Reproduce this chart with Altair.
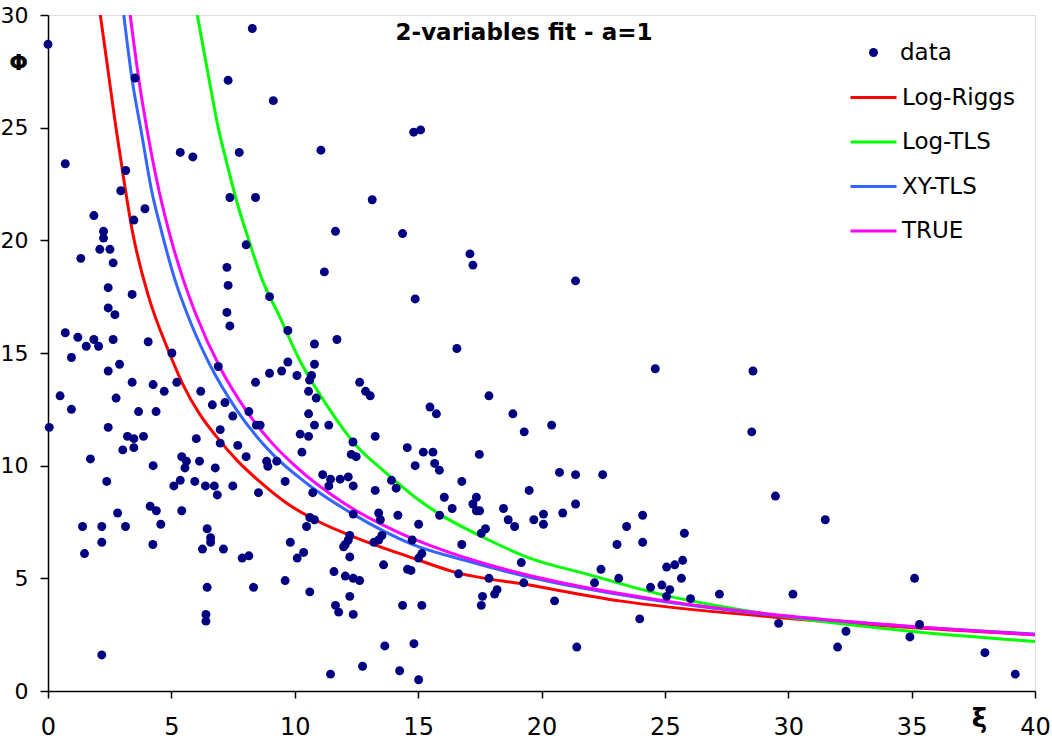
import altair as alt
import pandas as pd

# ---------------- data ----------------
data_x = [0.0, 8.28, 3.53, 7.30, 9.13, 0.70, 5.36, 5.87, 7.75, 3.15, 2.95, 7.37, 8.41, 1.86, 3.93, 3.48, 2.25, 2.25,
          11.06, 14.82, 15.10, 13.14, 11.65, 14.37,
          8.03, 1.33, 2.10, 2.51, 2.64, 7.25, 7.30, 2.44, 3.41, 8.98, 2.44, 2.71, 7.25, 7.37, 9.72, 0.70, 1.21, 1.86,
          1.55, 2.05, 2.64, 4.06, 0.95, 5.02, 2.90, 2.44, 6.90, 9.72, 9.47, 8.98, 8.41, 3.41, 4.26, 5.22, 4.71, 6.19,
          0.49, 2.76, 6.66, 7.17, 0.95, 3.67, 4.38, 8.14, 7.49, 8.44, 8.60, 0.05, 2.44, 6.98, 3.22, 3.48, 3.87, 6.01,
          6.98, 7.69, 3.03, 3.48, 1.72, 5.42, 5.61, 6.14, 8.03, 8.86, 9.27, 4.26, 5.55, 6.78,
          8.91, 2.38, 5.10, 5.36, 5.95, 6.38, 6.74, 6.86, 7.49, 8.53, 9.61, 4.14, 4.39, 2.82, 5.42, 4.57, 1.40, 2.18,
          3.14, 6.45, 6.59, 6.59, 2.18, 4.25, 1.48, 6.26, 7.11, 7.87, 8.14, 9.82, 9.61, 6.45, 8.33, 6.40, 6.40, 2.18,
          17.10, 17.22, 11.20, 14.88, 11.71, 16.57, 10.80, 10.80, 10.09, 10.68, 10.60, 10.56, 10.87, 12.63, 12.87,
          13.06, 15.48, 15.74, 17.87, 18.84, 19.30, 10.56, 10.80, 11.38, 10.22, 10.56, 12.36, 13.26, 10.29, 12.29,
          12.49, 14.56, 15.21, 15.60, 14.88, 15.67, 15.86, 17.48,
          10.73, 11.13, 11.45, 11.38, 11.84, 12.17, 12.37, 13.26, 13.92, 14.11, 16.77, 16.06, 16.38, 15.87, 17.36,
          17.22, 17.36, 17.49, 18.46, 18.65, 18.91, 19.50, 17.73, 17.56, 19.18, 16.77, 10.61, 10.80, 10.48, 12.37,
          13.40, 13.47, 14.18, 15.02, 12.23, 12.17, 12.05, 11.98, 13.53, 13.40, 13.21, 14.76, 10.36, 10.10, 12.23,
          15.15, 15.02, 13.60, 14.57, 14.71, 16.64, 17.87, 19.28, 11.59, 12.05, 12.37, 12.63, 10.61, 12.23, 11.65,
          11.78, 12.37, 14.37, 15.15, 17.61, 17.56, 18.10, 18.20, 13.65, 14.83, 12.75, 11.45, 14.25, 15.02,
          20.73, 21.38, 22.48, 21.38, 20.08, 20.08, 19.69, 20.86, 24.10, 23.45, 25.79, 23.06, 24.10, 22.41, 25.07,
          25.40, 25.72, 25.67, 23.13, 22.15, 24.42, 24.88, 25.20, 25.07, 26.04, 20.53, 27.21, 23.98, 21.43,
          21.38, 24.61, 28.57, 20.41, 28.52,
          29.48, 31.50, 35.12, 30.19, 29.61, 32.34, 32.00, 35.32, 34.93, 37.97, 39.20]
data_y = [28.7, 29.4, 27.2, 27.1, 26.2, 23.4, 23.9, 23.7, 23.9, 23.1, 22.2, 21.9, 21.9, 21.1, 21.4, 20.9, 20.4, 20.1,
          24.0, 24.8, 24.9, 21.8, 20.4, 20.3,
          19.8, 19.2, 19.6, 19.6, 19.0, 18.8, 18.0, 17.9, 17.6, 17.5, 17.0, 16.7, 16.8, 16.2, 16.0, 15.9, 15.7, 15.6,
          15.3, 15.3, 15.6, 15.5, 14.8, 15.0, 14.5, 14.2, 14.4, 14.6, 14.2, 14.1, 13.7, 13.7, 13.6, 13.7, 13.3, 13.3,
          13.1, 13.0, 12.7, 12.8, 12.5, 12.4, 12.4, 12.4, 12.2, 11.8, 11.8, 11.7, 11.7, 11.6, 11.3, 11.2, 11.3, 11.2,
          11.0, 10.9, 10.7, 10.8, 10.3, 10.4, 10.2, 10.2, 10.4, 10.2, 10.2, 10.0, 9.9, 9.9,
          9.97, 9.3, 9.1, 9.35, 9.3, 9.1, 9.1, 8.7, 9.1, 8.8, 9.3, 8.2, 8.0, 7.9, 8.0, 7.4, 7.3, 7.3,
          7.3, 7.2, 6.8, 6.6, 6.6, 6.5, 6.1, 6.3, 6.3, 5.9, 6.0, 6.6, 4.9, 4.6, 4.6, 3.4, 3.1, 1.6,
          19.4, 18.9, 18.6, 17.4, 15.6, 15.2, 15.4, 14.5, 14.0, 14.0, 13.8, 13.3, 13.0, 13.7, 13.3,
          13.1, 12.6, 12.3, 13.1, 12.3, 11.5, 12.3, 11.8, 11.8, 11.4, 11.3, 11.05, 11.3, 10.6, 10.5,
          10.4, 10.8, 10.6, 10.6, 10.0, 10.1, 9.8, 10.5,
          8.8, 9.6, 9.4, 9.1, 9.4, 9.5, 9.1, 8.9, 9.35, 9.0, 9.3, 8.6, 8.1, 7.8, 8.6,
          8.3, 8.0, 8.0, 8.1, 7.6, 7.3, 8.9, 7.2, 7.0, 5.7, 6.5, 7.7, 7.6, 7.3, 7.85,
          7.9, 7.6, 7.8, 7.4, 6.9, 6.7, 6.5, 6.4, 6.9, 6.7, 6.6, 6.7, 6.15, 5.9, 5.95,
          6.1, 5.9, 5.6, 5.4, 5.35, 5.2, 5.0, 4.8, 5.3, 5.1, 5.0, 4.9, 4.4, 4.2, 3.8,
          3.5, 3.4, 3.8, 3.8, 4.2, 3.8, 4.3, 4.5, 2.0, 2.1, 1.1, 0.75, 0.9, 0.5,
          9.7, 9.6, 9.6, 8.3, 7.85, 7.4, 7.6, 7.9, 7.8, 7.3, 7.0, 6.5, 6.6, 5.4, 5.5,
          5.6, 5.8, 5.0, 5.0, 4.8, 4.6, 4.7, 4.5, 4.2, 4.1, 4.0, 4.3, 3.2, 1.95,
          18.2, 14.3, 14.2, 11.8, 11.5,
          8.65, 7.6, 5.0, 4.3, 3.0, 2.65, 1.95, 2.95, 2.4, 1.7, 0.75]

riggs_x = [2.12, 2.4, 2.74, 3.1, 3.42, 4.05, 4.92, 5.47, 6.14, 6.82, 7.69, 8.57, 9.72, 11.0, 12.49, 14.79, 16.41,
           19.52, 23.17, 29.25, 34.5, 40.0]
riggs_y = [30.0, 27.8, 25.1, 22.5, 20.4, 17.6, 15.0, 13.6, 12.3, 11.3, 10.2, 9.3, 8.3, 7.5, 6.8, 5.9, 5.3,
           4.7, 4.0, 3.3, 2.85, 2.5]

tls_x = [6.05, 6.5, 6.88, 7.3, 7.63, 8.14, 8.7, 9.35, 10.19, 11.41, 12.49, 13.57, 15.0, 15.87, 17.49, 19.52, 21.8,
         24.79, 29.25, 35.05, 40.0]
tls_y = [30.0, 27.3, 25.1, 23.2, 21.8, 20.0, 18.2, 16.7, 14.7, 12.5, 10.9, 9.8, 8.5, 7.85, 6.9, 5.9, 5.2,
         4.3, 3.4, 2.64, 2.2]

xy_x = [3.07, 3.4, 3.8, 4.2, 4.6, 5.13, 5.8, 6.55, 7.63, 9.11, 10.5, 12.36, 14.79, 17.0, 19.52, 23.17, 29.25,
        34.5, 40.0]
xy_y = [30.0, 27.2, 24.7, 22.2, 20.4, 18.3, 16.3, 14.5, 12.5, 10.5, 9.2, 7.85, 6.5, 5.77, 5.05, 4.28, 3.38,
        2.9, 2.53]

true_x = [3.33, 3.7, 4.0, 4.5, 5.0, 5.5, 6.0, 7.0, 8.0, 9.0, 10.0, 12.0, 14.0, 16.0, 18.0, 20.0, 25.0, 30.0,
          35.0, 40.0]
true_y = [30.0, 27.0, 25.0, 22.2, 20.0, 18.2, 16.7, 14.3, 12.5, 11.1, 10.0, 8.33, 7.14, 6.25, 5.56, 5.0, 4.0,
          3.33, 2.86, 2.5]

series_names = ["Log-Riggs", "Log-TLS", "XY-TLS", "TRUE"]
series_colors = ["#FF0000", "#00FF00", "#3366FF", "#FF00FF"]
title_text = "2-variables fit - a=1"

# ---------------- tables ----------------
pts = pd.DataFrame({"xi": data_x, "phi": data_y, "label": "data"})
curve_parts = []
for name, xs, ys in zip(series_names, [riggs_x, tls_x, xy_x, true_x], [riggs_y, tls_y, xy_y, true_y]):
    curve_parts.append(pd.DataFrame({"xi": xs, "phi": ys, "series": name}))
curves = pd.concat(curve_parts, ignore_index=True)

W, H = 987, 676
FONT = "DejaVu Sans"

xscale = alt.Scale(domain=[0, 40], nice=False, zero=False)
yscale = alt.Scale(domain=[0, 30], nice=False, zero=False)

xaxis = alt.Axis(values=list(range(0, 41, 5)), grid=False, domainColor="black", tickColor="black",
                 domainWidth=1.5, tickWidth=1.5, tickSize=7, labelFontSize=24, labelFont=FONT,
                 labelColor="black", labelPadding=17, labelFlush=False, labelOverlap=False,
                 title="ξ", titleFont=FONT, titleFontSize=26, titleFontWeight="bold", titleColor="black",
                 titleX=931, titleY=14, titleAngle=0, titleAlign="center", titleBaseline="top")
yaxis = alt.Axis(values=list(range(0, 31, 5)), grid=False, domainColor="black", tickColor="black",
                 domainWidth=1.5, tickWidth=1.5, tickSize=8, labelFontSize=22, labelFont=FONT,
                 labelColor="black", labelPadding=12, labelFlush=False, labelOverlap=False,
                 title="Φ", titleFont=FONT, titleFontSize=22, titleFontWeight="bold", titleColor="black",
                 titleX=-30, titleY=47, titleAngle=0, titleAlign="center", titleBaseline="middle")

lines = alt.Chart(curves).mark_line(strokeWidth=3, interpolate="monotone", clip=True).encode(
    x=alt.X("xi:Q", scale=xscale, axis=xaxis),
    y=alt.Y("phi:Q", scale=yscale, axis=yaxis),
    color=alt.Color("series:N", sort=series_names,
                    scale=alt.Scale(domain=series_names, range=series_colors),
                    legend=alt.Legend(orient="none", legendX=801, legendY=58, title=None,
                                      symbolType="stroke", symbolSize=2116, symbolStrokeWidth=3,
                                      labelFont=FONT, labelFontSize=23, labelColor="black",
                                      labelOffset=4, rowPadding=7.5, padding=0)),
    order=alt.Order("xi:Q"),
)

points = alt.Chart(pts).mark_circle(size=80, opacity=1).encode(
    x=alt.X("xi:Q", scale=xscale),
    y=alt.Y("phi:Q", scale=yscale),
    fill=alt.Fill("label:N", scale=alt.Scale(domain=["data"], range=["#000080"]),
                  legend=alt.Legend(orient="none", legendX=814, legendY=26, title=None,
                                    symbolType="circle", symbolSize=80, symbolStrokeWidth=0,
                                    symbolFillColor="#000080", symbolOpacity=1,
                                    labelFont=FONT, labelFontSize=23, labelColor="black",
                                    labelOffset=15, padding=0)),
)

title_layer = alt.Chart(pd.DataFrame({"t": [title_text]})).mark_text(
    font=FONT, fontSize=23, fontWeight="bold", color="black", align="center", baseline="alphabetic"
).encode(text="t:N", x=alt.value(476), y=alt.value(25))

chart = alt.layer(lines, points, title_layer).resolve_scale(color="independent").properties(
    width=W, height=H,
    autosize=alt.AutoSizeParams(type="none"),
    padding={"left": 48, "top": 15, "right": 17, "bottom": 52},
).configure_view(stroke="#8C8C8C", strokeWidth=2).configure(background="white")

chart.save("out.html", embed_options={"renderer": "svg", "actions": False})
